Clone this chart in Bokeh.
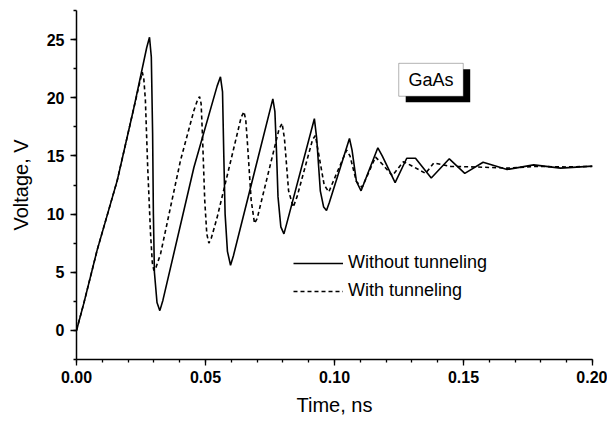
from bokeh.plotting import figure
from bokeh.models import (FixedTicker, NumeralTickFormatter, Legend, LegendItem,
                          BoxAnnotation, Label, Range1d)
from bokeh.embed import file_html
from bokeh.resources import INLINE

# Terminal voltage vs time, GaAs device
t_without = [0, 0.0028, 0.008, 0.0158, 0.022, 0.0272, 0.0283, 0.0290, 0.0295, 0.0298,
             0.0302, 0.0312, 0.0323, 0.0335, 0.0455, 0.0545, 0.0558, 0.0566, 0.0571,
             0.0576, 0.0585, 0.0597, 0.0608, 0.0761, 0.0769, 0.0775, 0.0781, 0.0792,
             0.0804, 0.0815, 0.0922, 0.0931, 0.0945, 0.0958, 0.0969, 0.0980, 0.1058,
             0.1068, 0.1085, 0.1103, 0.1168, 0.1185, 0.1235, 0.1280, 0.1314, 0.1375,
             0.1445, 0.1505, 0.1576, 0.1669, 0.1772, 0.1876, 0.2]
v_without = [0, 2.3, 6.9, 12.9, 18.9, 24.3, 25.2, 23.5, 17.0, 10.0,
             5.0, 2.4, 1.7, 2.6, 14.0, 21.0, 21.8, 20.5, 15.0,
             10.0, 6.8, 5.6, 6.4, 19.9, 18.8, 15.5, 11.5, 8.9,
             8.3, 9.2, 18.2, 16.5, 12.0, 10.6, 10.3, 11.0, 16.5,
             15.5, 12.8, 12.0, 15.7, 15.0, 12.7, 14.8, 14.8, 13.1,
             14.75, 13.5, 14.46, 13.83, 14.23, 13.95, 14.12]

t_with = [0, 0.0028, 0.008, 0.0158, 0.022, 0.0246, 0.0255, 0.0261, 0.0267, 0.0276,
          0.0287, 0.0294, 0.0300, 0.0308, 0.0326, 0.0403, 0.0455, 0.0469, 0.0477,
          0.0483, 0.0488, 0.0497, 0.0505, 0.0513, 0.0522, 0.0545, 0.0610, 0.0638,
          0.0649, 0.0656, 0.0662, 0.0677, 0.0690, 0.0700, 0.0785, 0.0797, 0.0806,
          0.0822, 0.0840, 0.0855, 0.0915, 0.0926, 0.0940, 0.0960, 0.0978, 0.0995,
          0.1047, 0.1060, 0.1085, 0.1107, 0.1159, 0.1185, 0.1224, 0.1267, 0.1295,
          0.1353, 0.1385, 0.145, 0.155, 0.167, 0.178, 0.19, 0.2]
v_with = [0, 2.3, 6.9, 12.9, 18.9, 21.4, 22.2, 21.6, 19.8, 14.0,
          8.3, 5.8, 5.15, 5.4, 6.6, 14.6, 18.9, 19.8, 20.1,
          19.5, 16.9, 11.2, 8.3, 7.5, 7.9, 9.7, 15.7, 18.3,
          18.8, 18.1, 16.3, 11.2, 9.2, 9.6, 17.3, 17.8, 16.5,
          12.0, 10.6, 11.5, 16.4, 16.75, 15.0, 12.5, 11.9, 12.8,
          15.5, 15.0, 12.8, 12.3, 14.9, 14.3, 13.3, 14.5, 14.2,
          13.5, 14.4, 14.1, 14.05, 13.95, 14.1, 14.05, 14.1]

x_ticks = [0.0, 0.05, 0.10, 0.15, 0.20]
x_minor = [round(0.01 * i, 2) for i in range(21)]
y_ticks = [0, 5, 10, 15, 20, 25]
y_minor = [-2.5 + 2.5 * i for i in range(13)]

FONT = "Liberation Sans"

p = figure(width=607, height=421, output_backend="svg", toolbar_location=None,
           x_range=Range1d(0, 0.2), y_range=Range1d(-2.5, 27.5),
           min_border_left=76, min_border_right=15, min_border_top=10,
           min_border_bottom=62)
p.outline_line_color = None
p.grid.visible = False
p.background_fill_color = "white"
p.border_fill_color = "white"

for ax in (p.xaxis[0], p.yaxis[0]):
    ax.axis_line_width = 1.5
    ax.axis_line_color = "black"
    ax.major_tick_line_color = "black"
    ax.major_tick_line_width = 1.3
    ax.minor_tick_line_color = "black"
    ax.minor_tick_line_width = 1.3
    ax.major_tick_in = 0
    ax.major_tick_out = 6
    ax.minor_tick_in = 0
    ax.minor_tick_out = 3
    ax.major_label_text_font = FONT
    ax.major_label_text_font_style = "bold"
    ax.major_label_text_font_size = "16px"
    ax.major_label_text_color = "black"
    ax.axis_label_text_font = FONT
    ax.axis_label_text_font_style = "normal"
    ax.axis_label_text_font_size = "20px"
    ax.axis_label_text_color = "black"

p.xaxis.ticker = FixedTicker(ticks=x_ticks, minor_ticks=x_minor)
p.yaxis.ticker = FixedTicker(ticks=y_ticks, minor_ticks=y_minor)
p.xaxis.formatter = NumeralTickFormatter(format="0.00")
p.yaxis.formatter = NumeralTickFormatter(format="0")
p.xaxis.major_label_standoff = 5
p.yaxis.major_label_standoff = 6
p.xaxis.axis_label = "Time, ns"
p.yaxis.axis_label = "Voltage, V"
p.xaxis.axis_label_standoff = 8
p.yaxis.axis_label_standoff = 12

r_with = p.line(t_with, v_with, line_color="black", line_width=1.6, line_dash="4 3")
r_without = p.line(t_without, v_without, line_color="black", line_width=1.6)

legend = Legend(items=[LegendItem(label="Without tunneling", renderers=[r_without]),
                       LegendItem(label="With tunneling", renderers=[r_with])],
                location=(217, 58), border_line_color=None,
                background_fill_alpha=0, padding=0, margin=0, spacing=7,
                glyph_width=50, glyph_height=20, label_height=20,
                label_standoff=5, label_text_font=FONT,
                label_text_font_size="18px", label_text_color="black")
p.add_layout(legend, "center")

# Material tag with drop shadow
p.add_layout(BoxAnnotation(left=0.1276, right=0.1526, bottom=19.61, top=22.44,
                           fill_color="black", fill_alpha=1, line_color=None))
p.add_layout(BoxAnnotation(left=0.1249, right=0.1499, bottom=20.13, top=22.96,
                           fill_color="white", fill_alpha=1, line_color="black",
                           line_width=1))
p.add_layout(Label(x=0.1374, y=21.55, text="GaAs", text_align="center",
                   text_baseline="middle", text_font=FONT,
                   text_font_size="18px", text_color="black"))

open("out.html", "w").write(file_html(p, INLINE))
